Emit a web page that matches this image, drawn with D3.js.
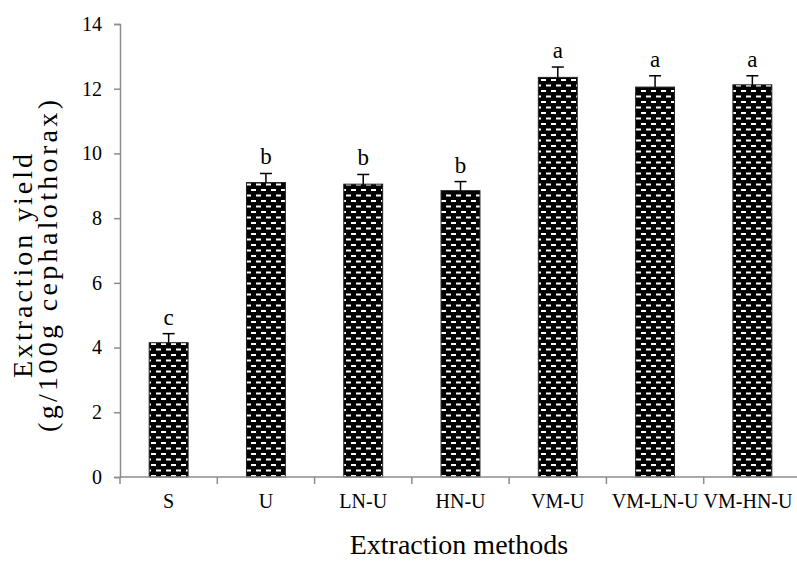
<!DOCTYPE html>
<html>
<head>
<meta charset="utf-8">
<script src="https://cdn.jsdelivr.net/npm/d3@7/dist/d3.min.js"></script>
<style>
  html, body { margin: 0; padding: 0; background: #fff; }
  svg { display: block; font-family: "Liberation Serif", "Times New Roman", serif; }
</style>
</head>
<body>
<svg id="chart" width="797" height="561"></svg>
<script>
// Extraction yield per method, with standard deviation and significance letters
const methods = ["S", "U", "LN-U", "HN-U", "VM-U", "VM-LN-U", "VM-HN-U"];
const yieldMeans = [4.15, 9.1, 9.05, 8.85, 12.35, 12.05, 12.12];
const yieldErrors = [0.28, 0.28, 0.3, 0.28, 0.32, 0.35, 0.28];
const sigLetters = ["c", "b", "b", "b", "a", "a", "a"];
const yTicks = [0, 2, 4, 6, 8, 10, 12, 14];

const svg = d3.select("#chart");
const axisColor = "#8c8c8c";

const x = d3.scaleBand().domain(methods).range([120, 801]).paddingInner(0.6).paddingOuter(0.3);
const y = d3.scaleLinear().domain([0, 14]).range([477, 24]);

// Brick-like dashed fill for the bars
const defs = svg.append("defs");
const pat = defs.append("pattern")
  .attr("id", "brick")
  .attr("patternUnits", "userSpaceOnUse")
  .attr("width", 10).attr("height", 11);
pat.append("rect").attr("width", 10).attr("height", 11).attr("fill", "#000");
pat.append("rect").attr("x", 1).attr("y", 2).attr("width", 5).attr("height", 2).attr("fill", "#fff");
pat.append("rect").attr("x", 6).attr("y", 7.5).attr("width", 5).attr("height", 2).attr("fill", "#fff");
pat.append("rect").attr("x", -4).attr("y", 7.5).attr("width", 5).attr("height", 2).attr("fill", "#fff");

// Y axis
const yAxis = svg.append("g")
  .attr("transform", "translate(120,0)")
  .call(d3.axisLeft(y).tickValues(yTicks).tickSize(6).tickPadding(12).tickFormat(d3.format("d")));
yAxis.select(".domain").attr("stroke", axisColor).attr("stroke-width", 1.5);
yAxis.selectAll(".tick line").attr("stroke", axisColor).attr("stroke-width", 1.5);
yAxis.selectAll(".tick text")
  .attr("font-family", "Liberation Serif, serif")
  .attr("font-size", 20).attr("fill", "#000");

// Bars
svg.append("g").selectAll("rect")
  .data(methods)
  .join("rect")
  .attr("x", d => x(d))
  .attr("width", x.bandwidth())
  .attr("y", (d, i) => y(yieldMeans[i]))
  .attr("height", (d, i) => y(0) - y(yieldMeans[i]))
  .attr("fill", "url(#brick)")
  .attr("stroke", "#222")
  .attr("stroke-width", 1);

// Error bars (upper only)
const eb = svg.append("g").attr("stroke", "#000").attr("stroke-width", 1.5);
methods.forEach((m, i) => {
  const cx = x(m) + x.bandwidth() / 2;
  const top = y(yieldMeans[i] + yieldErrors[i]);
  eb.append("line").attr("x1", cx).attr("x2", cx)
    .attr("y1", y(yieldMeans[i])).attr("y2", top);
  eb.append("line").attr("x1", cx - 6).attr("x2", cx + 6)
    .attr("y1", top).attr("y2", top);
});

// Significance letters
svg.append("g").selectAll("text")
  .data(methods)
  .join("text")
  .attr("x", d => x(d) + x.bandwidth() / 2)
  .attr("y", (d, i) => y(yieldMeans[i] + yieldErrors[i]) - 9)
  .attr("text-anchor", "middle")
  .attr("font-size", 23)
  .text((d, i) => sigLetters[i]);

// X axis with ticks at category boundaries
const xg = svg.append("g");
xg.append("line")
  .attr("x1", 120).attr("x2", 801)
  .attr("y1", y(0)).attr("y2", y(0))
  .attr("stroke", axisColor).attr("stroke-width", 1.5);
const bounds = d3.range(methods.length).map(i => x.range()[0] + i * (x.range()[1] - x.range()[0]) / methods.length);
xg.selectAll("line.tk")
  .data(bounds)
  .join("line")
  .attr("class", "tk")
  .attr("x1", d => d).attr("x2", d => d)
  .attr("y1", y(0)).attr("y2", y(0) + 7)
  .attr("stroke", axisColor).attr("stroke-width", 1.5);
xg.selectAll("text")
  .data(methods)
  .join("text")
  .attr("x", (d, i) => Math.min(x(d) + x.bandwidth() / 2, 748))
  .attr("y", 508)
  .attr("text-anchor", "middle")
  .attr("font-size", 20)
  .text(d => d);

// Axis titles
svg.append("text")
  .attr("x", 459).attr("y", 554)
  .attr("text-anchor", "middle")
  .attr("font-size", 28)
  .text("Extraction methods");

const yt = svg.append("text")
  .attr("transform", "translate(0,266) rotate(-90)")
  .attr("text-anchor", "middle")
  .attr("font-size", 28);
yt.append("tspan").attr("x", 0).attr("y", 32)
  .attr("textLength", 224).attr("lengthAdjust", "spacing")
  .text("Extraction yield");
yt.append("tspan").attr("x", 0).attr("y", 57)
  .attr("textLength", 332).attr("lengthAdjust", "spacing")
  .text("(g/100g cephalothorax)");
</script>
</body>
</html>
